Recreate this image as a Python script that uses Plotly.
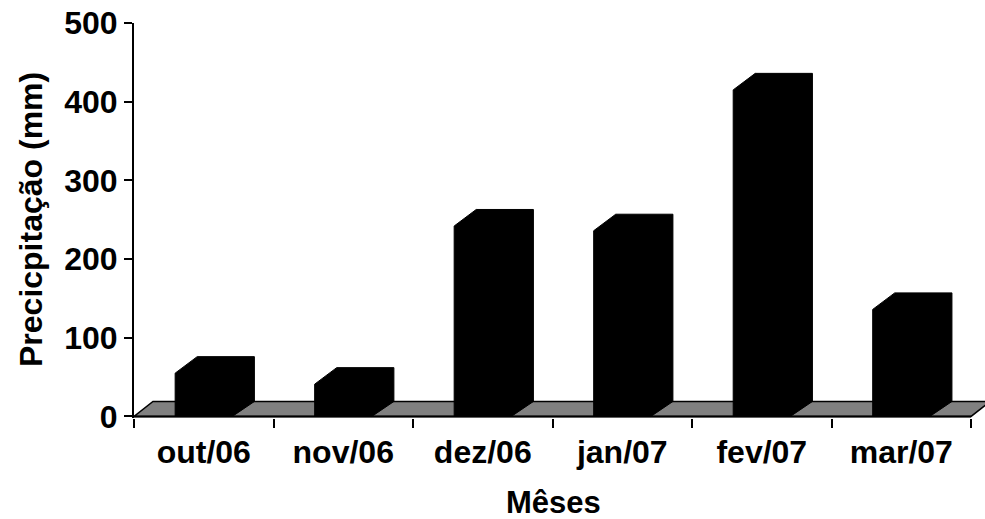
import plotly.graph_objects as go

# ---- data ----
months = ["out/06", "nov/06", "dez/06", "jan/07", "fev/07", "mar/07"]
precip = [55, 41, 242, 236, 415, 136]
y_ticks = [0, 100, 200, 300, 400, 500]

# ---- 3D styling (in axis units) ----
half_w = 0.205      # half width of bar front face (category units)
bar_dx = 0.158      # depth offset of bar top (category units)
bar_dy = 21         # depth offset of bar top (mm units)
floor_dx = 0.136
floor_dy = 19

W, H = 985, 519
ml, mr, mt, mb = 134, 0, 23, 101
x_range = [-0.5, 5.6]
y_range = [-2, 500]

FONT = "Liberation Sans, Arial, Helvetica, sans-serif"

fig = go.Figure()

n = len(months)
xs = list(range(n))

# floor
fx = [-0.5, n - 0.5, n - 0.5 + floor_dx, -0.5 + floor_dx, -0.5]
fy = [0, 0, floor_dy, floor_dy, 0]
fig.add_trace(go.Scatter(x=fx, y=fy, mode="lines", fill="toself",
                         fillcolor="#808080", line=dict(color="black", width=1.5),
                         hoverinfo="skip", showlegend=False))

# bars (silhouette of front + top + side)
for c, v in zip(xs, precip):
    px = [c - half_w, c - half_w, c - half_w + bar_dx, c + half_w + bar_dx,
          c + half_w + bar_dx, c + half_w, c - half_w]
    py = [0, v, v + bar_dy, v + bar_dy, floor_dy, 0, 0]
    fig.add_trace(go.Scatter(x=px, y=py, mode="lines", fill="toself",
                             fillcolor="black", line=dict(color="black", width=1),
                             hoverinfo="skip", showlegend=False))

# x axis line (front edge of floor)
fig.add_trace(go.Scatter(x=[-0.5, n - 0.5], y=[0, 0], mode="lines",
                         line=dict(color="black", width=2),
                         hoverinfo="skip", showlegend=False))

# invisible trace for the boundary-tick axis
fig.add_trace(go.Scatter(x=[-0.5], y=[0], xaxis="x2", mode="markers",
                         marker=dict(opacity=0), hoverinfo="skip", showlegend=False))

fig.update_layout(
    width=W, height=H,
    margin=dict(l=ml, r=mr, t=mt, b=mb),
    paper_bgcolor="white", plot_bgcolor="white",
    showlegend=False,
    xaxis=dict(range=x_range, tickmode="array", tickvals=xs, ticktext=months,
               ticks="", showline=False, showgrid=False, zeroline=False,
               tickfont=dict(family=FONT, size=32, color="black", weight="bold"),
               ticklabelstandoff=12),
    xaxis2=dict(range=x_range, overlaying="x", side="bottom",
                tickmode="array", tickvals=[i - 0.5 for i in range(n + 1)],
                ticks="outside", ticklen=9, tickwidth=2, tickcolor="black",
                showticklabels=False, showline=False, showgrid=False, zeroline=False),
    yaxis=dict(range=y_range, tickmode="array", tickvals=y_ticks,
               ticks="outside", ticklen=8, tickwidth=2, tickcolor="black",
               showline=True, linewidth=2, linecolor="black",
               showgrid=False, zeroline=False,
               tickfont=dict(family=FONT, size=32, color="black", weight="bold"),
               ticklabelstandoff=0),
    annotations=[
        dict(text="Mêses", xref="paper", yref="paper",
             x=(553 - ml) / (W - ml - mr), y=-(502 - (H - mb)) / (H - mt - mb),
             showarrow=False, xanchor="center", yanchor="middle",
             font=dict(family=FONT, size=31, color="black", weight="bold")),
        dict(text="Precicpitação (mm)", xref="paper", yref="paper",
             x=(31 - ml) / (W - ml - mr), y=((H - mb) - 220) / (H - mt - mb),
             showarrow=False, xanchor="center", yanchor="middle", textangle=-90,
             font=dict(family=FONT, size=32, color="black", weight="bold")),
    ],
)

fig.write_html("out.html")
